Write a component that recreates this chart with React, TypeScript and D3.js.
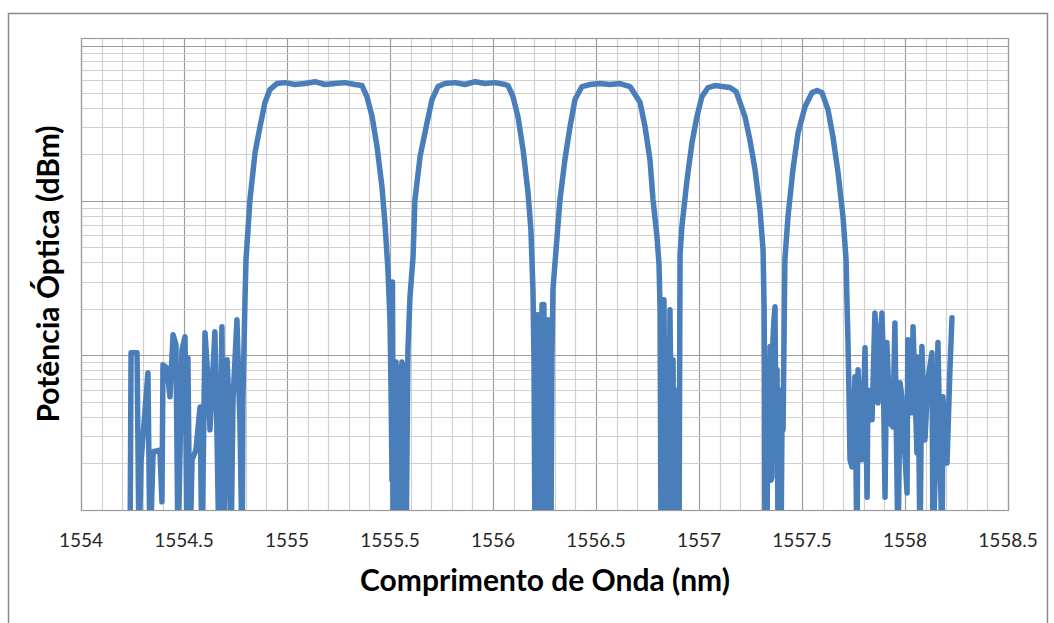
import React, { useEffect, useRef } from 'react'
import * as d3 from 'd3'

// wavelength (nm) and optical power (one line per stretch of the trace)
const wavelengthNm = [
  1554.238, 1554.243, 1554.272, 1554.282, 1554.291, 1554.325, 1554.335, 1554.350, 1554.383, 1554.393,
  1554.398, 1554.417, 1554.432, 1554.447, 1554.461, 1554.471, 1554.490, 1554.505, 1554.515, 1554.519,
  1554.529, 1554.539, 1554.558, 1554.578, 1554.587, 1554.602, 1554.616, 1554.626, 1554.650, 1554.660,
  1554.670, 1554.684, 1554.694, 1554.709, 1554.723, 1554.728, 1554.738, 1554.757, 1554.772, 1554.782,
  1554.786, 1554.796, 1554.801, 1554.820, 1554.845, 1554.869, 1554.893, 1554.917, 1554.951, 1554.990,
  1555.039, 1555.087, 1555.136, 1555.184, 1555.233, 1555.281, 1555.330, 1555.364, 1555.388, 1555.413, 1555.437, 1555.461, 1555.476, 1555.490, 1555.500,
  1555.505, 1555.510, 1555.512, 1555.517, 1555.520, 1555.524, 1555.529, 1555.534, 1555.539, 1555.544, 1555.548, 1555.553, 1555.558, 1555.563, 1555.568, 1555.573, 1555.578,
  1555.587, 1555.597, 1555.612, 1555.621, 1555.646, 1555.680, 1555.704, 1555.733, 1555.767, 1555.815, 1555.864, 1555.913, 1555.961, 1556.010, 1556.058, 1556.073, 1556.097, 1556.121, 1556.146, 1556.170, 1556.184,
  1556.194, 1556.199, 1556.204, 1556.209, 1556.213, 1556.218, 1556.223, 1556.228, 1556.233, 1556.238, 1556.243, 1556.247, 1556.252, 1556.257, 1556.262, 1556.267, 1556.272, 1556.277, 1556.281, 1556.286, 1556.291,
  1556.306, 1556.325, 1556.349, 1556.374, 1556.398, 1556.432, 1556.471, 1556.519, 1556.568, 1556.616, 1556.665, 1556.714, 1556.738, 1556.762, 1556.777, 1556.796, 1556.806,
  1556.811, 1556.816, 1556.820, 1556.825, 1556.830, 1556.835, 1556.840, 1556.845, 1556.850, 1556.854, 1556.859, 1556.864, 1556.869, 1556.874, 1556.879, 1556.883, 1556.888, 1556.893, 1556.898, 1556.903,
  1556.908, 1556.917, 1556.942, 1556.966, 1556.990, 1557.014, 1557.044, 1557.078, 1557.112, 1557.150, 1557.180, 1557.189, 1557.223, 1557.247, 1557.272, 1557.296, 1557.311,
  1557.316, 1557.318, 1557.320, 1557.325, 1557.330, 1557.335, 1557.340, 1557.345, 1557.350, 1557.354, 1557.359, 1557.364, 1557.369, 1557.374, 1557.379, 1557.384, 1557.388, 1557.393, 1557.398, 1557.403, 1557.408,
  1557.417, 1557.432, 1557.456, 1557.481, 1557.515, 1557.549, 1557.573, 1557.597, 1557.626, 1557.650, 1557.675, 1557.699, 1557.714, 1557.718, 1557.723, 1557.728, 1557.733, 1557.743,
  1557.757, 1557.767, 1557.772, 1557.791, 1557.806, 1557.816, 1557.820, 1557.840, 1557.854, 1557.864,
  1557.869, 1557.888, 1557.893, 1557.903, 1557.912, 1557.927, 1557.941, 1557.951, 1557.966, 1557.976,
  1557.985, 1557.990, 1558.010, 1558.014, 1558.034, 1558.039, 1558.058, 1558.063, 1558.073, 1558.082,
  1558.097, 1558.111, 1558.131, 1558.136, 1558.155, 1558.160, 1558.180, 1558.184, 1558.204, 1558.218,
  1558.228,
]

const power = [
  0.005, 0.104, 0.104, 0.005, 0.0201, 0.0771, 0.005, 0.0238, 0.0244, 0.0113,
  0.0868, 0.083, 0.0539, 0.136, 0.117, 0.005, 0.108, 0.132, 0.005, 0.096,
  0.005, 0.0211, 0.0244, 0.0464, 0.005, 0.14, 0.0726, 0.033, 0.142, 0.0316,
  0.005, 0.153, 0.005, 0.0935, 0.0345, 0.005, 0.0519, 0.17, 0.0345, 0.005,
  0.0519, 0.229, 0.415, 1.01, 2.05, 3.01, 4.31, 5.23, 5.72, 5.8,
  5.64, 5.72, 5.88, 5.64, 5.72, 5.8, 5.64, 5.55, 4.71, 3.5, 2.24, 1.23, 0.7, 0.357, 0.17,
  0.0598, 0.0156, 0.298, 0.005, 0.0843, 0.005, 0.0907, 0.005, 0.0843, 0.005, 0.0771, 0.005, 0.0907, 0.0843, 0.005, 0.0598, 0.005,
  0.108, 0.239, 0.434, 1.01, 1.93, 3.2, 4.51, 5.47, 5.72, 5.8, 5.64, 5.88, 5.72, 5.8, 5.64, 5.55, 4.71, 3.5, 2.14, 1.13, 0.649,
  0.266, 0.0935, 0.005, 0.183, 0.0211, 0.183, 0.005, 0.16, 0.0116, 0.213, 0.005, 0.213, 0.0164, 0.17, 0.005, 0.17, 0.0182, 0.126, 0.005, 0.0935, 0.266,
  0.482, 1.01, 1.84, 3.01, 4.51, 5.47, 5.64, 5.72, 5.64, 5.72, 5.47, 4.31, 3.01, 1.84, 1.01, 0.585, 0.385,
  0.197, 0.005, 0.126, 0.005, 0.229, 0.0211, 0.005, 0.0806, 0.126, 0.005, 0.197, 0.0493, 0.005, 0.0935, 0.005, 0.0519, 0.0164, 0.005, 0.0598, 0.005,
  0.447, 0.679, 1.37, 2.37, 3.5, 4.71, 5.39, 5.55, 5.47, 5.39, 5.08, 4.71, 3.5, 2.48, 1.59, 0.875, 0.482,
  0.206, 0.0806, 0.005, 0.0598, 0.005, 0.0935, 0.0211, 0.114, 0.0156, 0.0164, 0.126, 0.17, 0.206, 0.0211, 0.0806, 0.005, 0.0598, 0.0284, 0.005, 0.0383, 0.033,
  0.415, 0.788, 1.59, 2.75, 4.06, 5.0, 5.15, 5.0, 3.88, 2.6, 1.52, 0.788, 0.415, 0.229, 0.126, 0.0572, 0.0211, 0.019,
  0.0726, 0.005, 0.0806, 0.0211, 0.112, 0.0121, 0.0598, 0.0383, 0.188, 0.126,
  0.0493, 0.188, 0.114, 0.0121, 0.121, 0.0366, 0.0345, 0.162, 0.005, 0.0664,
  0.0539, 0.0383, 0.0129, 0.126, 0.0425, 0.153, 0.0234, 0.0977, 0.005, 0.114,
  0.0284, 0.0694, 0.104, 0.005, 0.0464, 0.121, 0.005, 0.0539, 0.0201, 0.0806,
  0.175,
]

const xTicks = [1554, 1554.5, 1555, 1555.5, 1556, 1556.5, 1557, 1557.5, 1558, 1558.5]
const xTitle = 'Comprimento de Onda (nm)'
const yTitle = 'Potência Óptica (dBm)'

const W = 1054
const H = 623

export default function App() {
  const ref = useRef<SVGSVGElement>(null)

  useEffect(() => {
    const svg = d3.select(ref.current)
    svg.selectAll('*').remove()

    const left = 81, right = 1008, top = 38, bottom = 510
    const x = d3.scaleLinear().domain([1554, 1558.5]).range([left, right])
    const y = d3.scaleLog().domain([0.01, 11.27]).range([bottom, top])

    // chart frame
    svg.append('rect')
      .attr('x', 8.5).attr('y', 13.5)
      .attr('width', 1039).attr('height', 640)
      .attr('fill', '#fff').attr('stroke', '#8a8a8a').attr('stroke-width', 1.5)

    const grid = svg.append('g')
    const minor = d3.range(0, 46).map(i => 1554 + i * 0.1)
    grid.selectAll('line.xg').data(minor).enter().append('line')
      .attr('x1', d => Math.round(x(d)) + 0.5).attr('x2', d => Math.round(x(d)) + 0.5)
      .attr('y1', top).attr('y2', bottom)
      .attr('stroke', (d, i) => i % 5 === 0 ? '#9c9c9c' : '#d0d0d0')
      .attr('stroke-width', 1.2)

    const yt = y.ticks()
    grid.selectAll('line.yg').data(yt).enter().append('line')
      .attr('x1', left).attr('x2', right)
      .attr('y1', d => Math.round(y(d)) + 0.5).attr('y2', d => Math.round(y(d)) + 0.5)
      .attr('stroke', d => Math.abs(Math.log10(d) - Math.round(Math.log10(d))) < 1e-6 ? '#9c9c9c' : '#d0d0d0')
      .attr('stroke-width', 1.2)

    svg.append('rect')
      .attr('x', left + 0.5).attr('y', top + 0.5)
      .attr('width', right - left).attr('height', bottom - top)
      .attr('fill', 'none').attr('stroke', '#9c9c9c').attr('stroke-width', 1.2)

    svg.append('clipPath').attr('id', 'plotclip')
      .append('rect').attr('x', left).attr('y', top)
      .attr('width', right - left).attr('height', bottom - top)

    const line = d3.line<number>()
      .x((d, i) => x(wavelengthNm[i]))
      .y(d => y(d))

    svg.append('path')
      .attr('clip-path', 'url(#plotclip)')
      .attr('d', line(power))
      .attr('fill', 'none')
      .attr('stroke', '#4a7ebb')
      .attr('stroke-width', 5.5)
      .attr('stroke-linejoin', 'round')
      .attr('stroke-linecap', 'round')

    svg.selectAll('text.xt').data(xTicks).enter().append('text')
      .attr('x', d => x(d)).attr('y', 547)
      .attr('text-anchor', 'middle')
      .attr('font-family', 'Lato, sans-serif')
      .attr('font-size', 19)
      .attr('fill', '#262626')
      .text(d => String(d))

    svg.append('text')
      .attr('x', 545).attr('y', 591)
      .attr('text-anchor', 'middle')
      .attr('font-family', 'Lato, sans-serif')
      .attr('font-weight', 700)
      .attr('font-size', 30)
      .attr('fill', '#000')
      .text(xTitle)

    svg.append('text')
      .attr('transform', 'translate(59,274) rotate(-90)')
      .attr('text-anchor', 'middle')
      .attr('font-family', 'Lato, sans-serif')
      .attr('font-weight', 700)
      .attr('font-size', 30)
      .attr('fill', '#000')
      .text(yTitle)
  }, [])

  return (
    <div style={{ position: 'absolute', left: 0, top: 0 }}>
      <svg ref={ref} width={W} height={H} />
    </div>
  )
}
